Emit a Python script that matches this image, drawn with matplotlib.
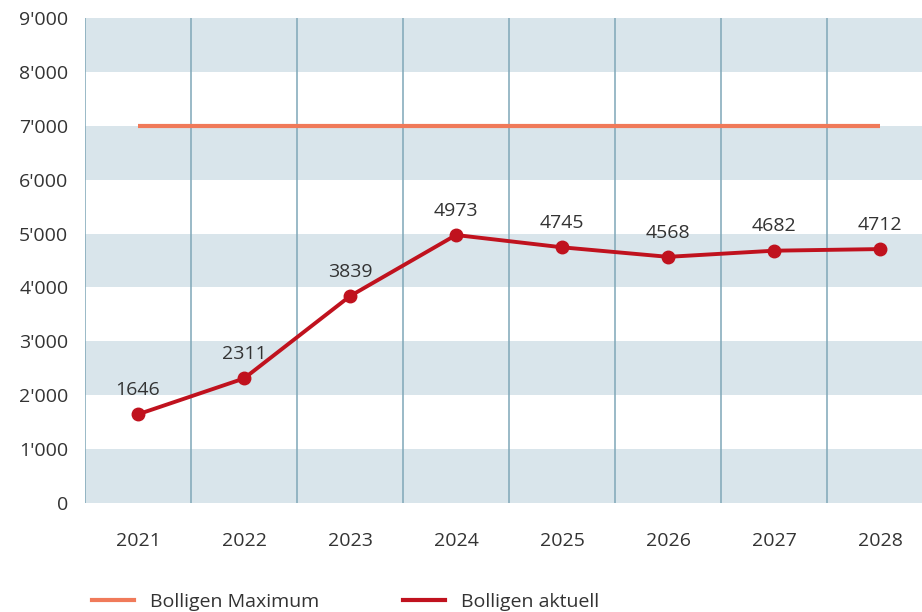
import matplotlib.pyplot as plt
from matplotlib.lines import Line2D
from matplotlib.ticker import FuncFormatter

plt.rcParams['font.family'] = ['Open Sans', 'DejaVu Sans']

# data
years = ['2021', '2022', '2023', '2024', '2025', '2026', '2027', '2028']
bolligen_aktuell = [1646, 2311, 3839, 4973, 4745, 4568, 4682, 4712]
bolligen_max = [7000, 7000, 7000, 7000, 7000, 7000, 7000, 7000]
y_ticks = [0, 1000, 2000, 3000, 4000, 5000, 6000, 7000, 8000, 9000]

band_color = '#d9e5eb'
grid_color = '#7fa7b8'
max_color = '#f07a5a'
act_color = '#c0121e'
text_color = '#333333'
fs = 14

fig = plt.figure(figsize=(9.22, 6.12), dpi=100)
ax = fig.add_axes([85 / 922, 109 / 612, 848 / 922, 485 / 612])

x = list(range(len(years)))

# alternating horizontal bands
for i in range(0, len(y_ticks) - 1, 2):
    ax.axhspan(y_ticks[i], y_ticks[i + 1], color=band_color, lw=0, zorder=0)

# vertical separators between categories
for i in range(len(years) + 1):
    ax.axvline(i - 0.5, color=grid_color, lw=1.1, zorder=1)

ax.plot(x, bolligen_max, color=max_color, lw=3, solid_capstyle='butt', zorder=3)
ax.plot(x, bolligen_aktuell, color=act_color, lw=2.8, marker='o', ms=9, zorder=4)

for xi, v in zip(x, bolligen_aktuell):
    ax.annotate(str(v), (xi, v), xytext=(0, 11), textcoords='offset points',
                ha='center', va='bottom', fontsize=fs, color=text_color)

ax.set_xlim(-0.5, len(years) - 0.5)
ax.set_ylim(0, 9000)
ax.set_xticks(x)
ax.set_xticklabels(years)
ax.set_yticks(y_ticks)
ax.yaxis.set_major_formatter(FuncFormatter(lambda v, p: f"{int(v):,}".replace(',', "'")))
ax.tick_params(axis='x', length=0, pad=21, labelsize=fs, labelcolor=text_color)
ax.tick_params(axis='y', length=0, pad=12, labelsize=fs, labelcolor=text_color)
for s in ax.spines.values():
    s.set_visible(False)

handles = [Line2D([], [], color=max_color, lw=3),
           Line2D([], [], color=act_color, lw=3)]
fig.legend(handles, ['Bolligen Maximum', 'Bolligen aktuell'],
           loc='lower left', bbox_to_anchor=(74 / 922, -0.027), ncol=2,
           frameon=False, fontsize=fs, handlelength=2.2, handletextpad=0.8,
           columnspacing=4.3, labelcolor=text_color)

fig.savefig('out.png', dpi=100)
